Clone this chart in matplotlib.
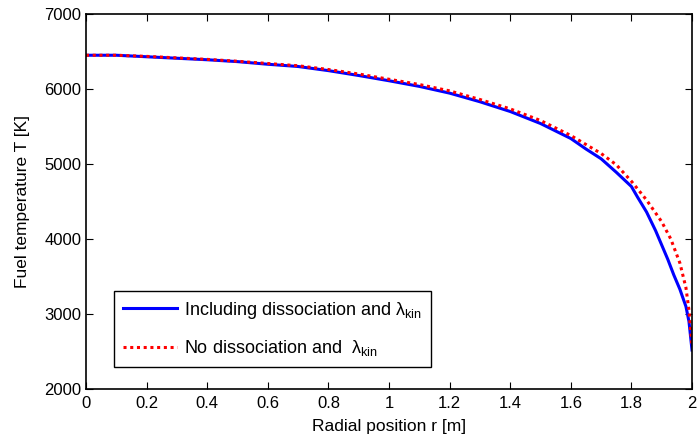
import numpy as np
import matplotlib
matplotlib.use("Agg")
import matplotlib.pyplot as plt

plt.rcParams['font.family'] = ['Liberation Sans', 'DejaVu Sans']
plt.rcParams['mathtext.fontset'] = 'custom'
plt.rcParams['mathtext.rm'] = 'Liberation Sans'
plt.rcParams['mathtext.it'] = 'Liberation Sans'

# radial positions [m]
r_diss = [0, 0.1, 0.2, 0.3, 0.4, 0.5, 0.6, 0.7, 0.8, 0.9, 1.0, 1.1, 1.2, 1.3, 1.4, 1.5,
          1.6, 1.65, 1.7, 1.75, 1.8, 1.82, 1.85, 1.88, 1.9, 1.92, 1.94, 1.96, 1.98, 1.99, 2.0]
# fuel temperature with dissociation [K]
T_diss = [6450, 6450, 6430, 6410, 6390, 6365, 6330, 6300, 6245, 6180, 6110, 6035, 5945, 5830, 5700, 5540,
          5340, 5200, 5070, 4890, 4700, 4560, 4360, 4110, 3920, 3730, 3520, 3330, 3100, 2900, 2520]

r_nodiss = [0, 0.1, 0.2, 0.3, 0.4, 0.5, 0.6, 0.7, 0.8, 0.9, 1.0, 1.1, 1.2, 1.3, 1.4, 1.5,
            1.6, 1.7, 1.75, 1.8, 1.85, 1.9, 1.93, 1.96, 1.98, 1.99, 2.0]
T_nodiss = [6450, 6450, 6435, 6415, 6395, 6370, 6340, 6310, 6260, 6200, 6130, 6060, 5975, 5860, 5735, 5580,
            5380, 5140, 4990, 4770, 4520, 4230, 4000, 3680, 3350, 3050, 2560]

fig = plt.figure(figsize=(6.97, 4.41), dpi=100)
ax = fig.add_axes([86/697, 52/441, 606/697, 375/441])

ax.plot(r_diss, T_diss, color='#0000ff', lw=2.2,
        label=r'Including dissociation and $\lambda_{\rm kin}$')
ax.plot(r_nodiss, T_nodiss, color='#ff0000', lw=2.2, ls=(0, (1, 1.2)),
        label=r'No dissociation and  $\lambda_{\rm kin}$')

ax.set_xlim(0, 2)
ax.set_ylim(2000, 7000)
ax.set_xticks(np.arange(0, 2.01, 0.2))
ax.set_xticklabels(['0', '0.2', '0.4', '0.6', '0.8', '1', '1.2', '1.4', '1.6', '1.8', '2'])
ax.set_yticks(range(2000, 7001, 1000))
ax.tick_params(direction='in', top=True, right=True, labelsize=12, length=5, width=0.8)
ax.tick_params(axis='x', pad=5)
for s in ax.spines.values():
    s.set_linewidth(1.2)

ax.set_xlabel('Radial position r [m]', fontsize=12.5, labelpad=6)
ax.set_ylabel('Fuel temperature T [K]', fontsize=12.5, labelpad=10)

leg = ax.legend(loc='lower left', bbox_to_anchor=(0.046, 0.059), borderaxespad=0,
                fontsize=13, fancybox=False, framealpha=1, edgecolor='black',
                handlelength=3.0, handletextpad=0.4, labelspacing=0.95, borderpad=0.5)
leg.get_frame().set_linewidth(1.0)

fig.savefig('out.png', dpi=100)
